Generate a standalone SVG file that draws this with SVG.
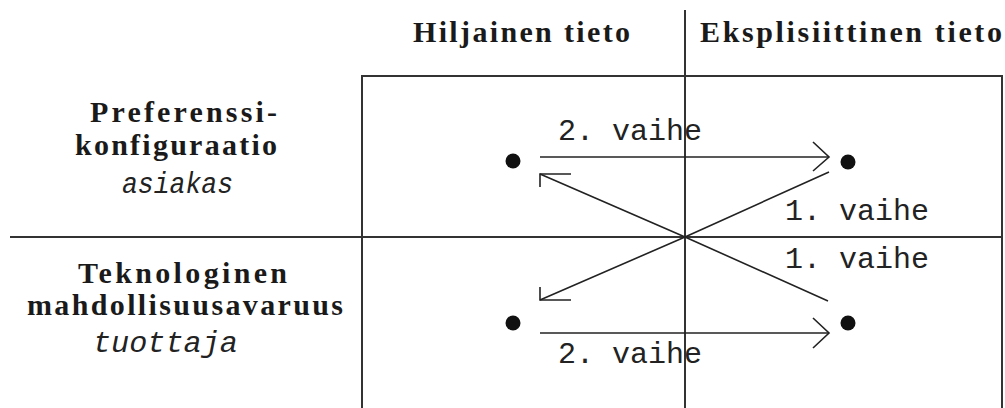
<svg xmlns="http://www.w3.org/2000/svg" width="1005" height="408" viewBox="0 0 1005 408">
<style>
.ln{stroke:#222;stroke-width:1.6;fill:none}
.frame{stroke:#333;stroke-width:2;fill:none}
.hd{font-family:"Liberation Serif",serif;font-weight:bold;font-size:30px;fill:#1a1a1a}
.it{font-family:"Liberation Mono",monospace;font-style:italic;font-size:29px;fill:#222}
.mono{font-family:"Liberation Mono",monospace;font-size:30px;fill:#222}
.dot{fill:#111}
</style>
<rect width="1005" height="408" fill="#fff"/>
<g id="frame">
<polyline class="frame" points="362,408 362,76 1002,76 1002,408"/>
<line class="frame" x1="10" y1="237" x2="1002" y2="237"/>
<line class="frame" x1="685" y1="10" x2="685" y2="408"/>
</g>
<g id="header-hiljainen"><text class="hd" x="413" y="42" textLength="217" lengthAdjust="spacing">Hiljainen tieto</text></g>
<g id="header-eksplisiittinen"><text class="hd" x="700" y="42" textLength="302" lengthAdjust="spacing">Eksplisiittinen tieto</text></g>
<g id="row-preferenssi">
<text class="hd" x="90" y="122" textLength="187" lengthAdjust="spacing">Preferenssi-</text>
<text class="hd" x="75" y="155" textLength="202" lengthAdjust="spacing">konfiguraatio</text>
<text class="it" x="122" y="193" textLength="111" lengthAdjust="spacingAndGlyphs">asiakas</text>
</g>
<g id="row-teknologinen">
<text class="hd" x="78" y="283" textLength="209" lengthAdjust="spacing">Teknologinen</text>
<text class="hd" x="27" y="315" textLength="316" lengthAdjust="spacing">mahdollisuusavaruus</text>
<text class="it" x="93" y="352" textLength="145" lengthAdjust="spacingAndGlyphs">tuottaja</text>
</g>
<g id="node-tl"><circle class="dot" cx="513" cy="161" r="7.5"/></g>
<g id="node-tr"><circle class="dot" cx="848" cy="162" r="7.5"/></g>
<g id="node-bl"><circle class="dot" cx="513" cy="323" r="7.5"/></g>
<g id="node-br"><circle class="dot" cx="848" cy="323" r="7.5"/></g>
<g id="connectors">
<line class="ln" x1="540" y1="157" x2="829" y2="157"/>
<polyline class="ln" points="813,142 829,157 813,171"/>
<line class="ln" x1="540" y1="333" x2="829" y2="333"/>
<polyline class="ln" points="813,318 829,333 813,348"/>
<polyline class="ln" points="829,172 685,237 540,300"/>
<polyline class="ln" points="540,287 540,300 571,300"/>
<polyline class="ln" points="828,301 685,237 540,174"/>
<polyline class="ln" points="571,174 540,174 540,187"/>
</g>
<g id="labels">
<text class="mono" x="558" y="140">2. vaihe</text>
<text class="mono" x="558" y="363">2. vaihe</text>
<text class="mono" x="785" y="220">1. vaihe</text>
<text class="mono" x="785" y="268">1. vaihe</text>
</g>
</svg>
